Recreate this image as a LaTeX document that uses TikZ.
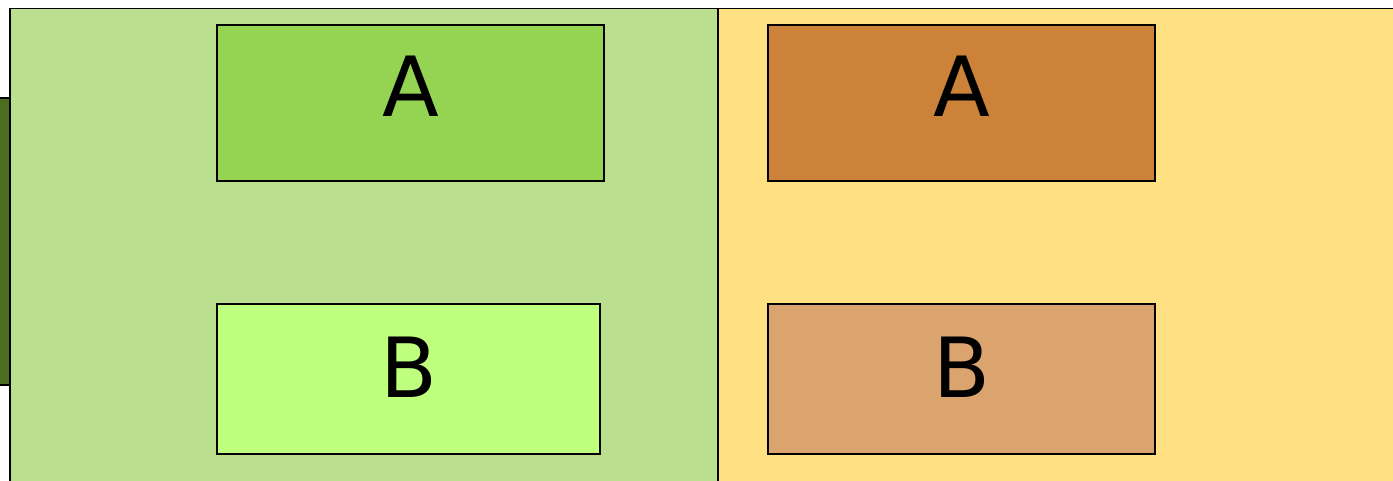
\documentclass[tikz,border=0pt]{standalone}
\usepackage{fontspec}
\setmainfont{DejaVu Sans}
\usetikzlibrary{positioning}

\definecolor{laneGreen}{RGB}{185,223,143}
\definecolor{laneYellow}{RGB}{255,224,131}
\definecolor{laneTab}{RGB}{75,110,30}
\definecolor{boxGreenA}{RGB}{149,211,82}
\definecolor{boxGreenB}{RGB}{190,255,125}
\definecolor{boxOrangeA}{RGB}{204,130,56}
\definecolor{boxOrangeB}{RGB}{219,163,109}

\def\laneTop{473}
\def\laneSplit{717}
\def\boxWidth{387}
\def\boxHeightA{156}
\def\boxHeightB{150}

\tikzset{
    lane/.style = {draw = black, line width = 1.5pt, inner sep = 0pt, anchor = north west},
    letterbox/.style = {draw = black, line width = 1.5pt, inner sep = 0pt,
        font = \fontsize{83}{100}\selectfont},
    rowA/.style = {letterbox, minimum height = \boxHeightA pt, text depth = 33pt},
    rowB/.style = {letterbox, minimum height = \boxHeightB pt, text depth = 22.6pt},
}

\begin{document}
\begin{tikzpicture}[x = 1pt, y = 1pt]
            \useasboundingbox (0,0) rectangle (1393,481);
            \clip (0,0) rectangle (1393,481);
            %% lanes
            \node [lane, fill = laneYellow, minimum width = 720pt, minimum height = 500pt]
            (laneright) at (\laneSplit,\laneTop) {};
            \node [lane, fill = laneGreen, minimum width = {(\laneSplit-9)*1pt}, minimum height = 500pt]
            (laneleft) at (9,\laneTop) {};
            %% tab
            \draw [line width = 1.5pt, fill = laneTab]
            (laneleft.north west) ++(0,-90) coordinate (tabtop)
            (tabtop) -- ++(-12,0) -- ++(0,-287) -- ++(12,0)
            ;
            %% boxes
            \node [rowA, fill = boxGreenA, minimum width = \boxWidth pt] (greenA) at (410.5,378) {A};
            \node [rowB, fill = boxGreenB, minimum width = 383pt] (greenB) at (408.5,102) {B};
            \node [rowA, fill = boxOrangeA, minimum width = \boxWidth pt] (orangeA) at (961.5,378) {A};
            \node [rowB, fill = boxOrangeB, minimum width = \boxWidth pt] (orangeB) at (961.5,102) {B};
        \end{tikzpicture}
\end{document}
